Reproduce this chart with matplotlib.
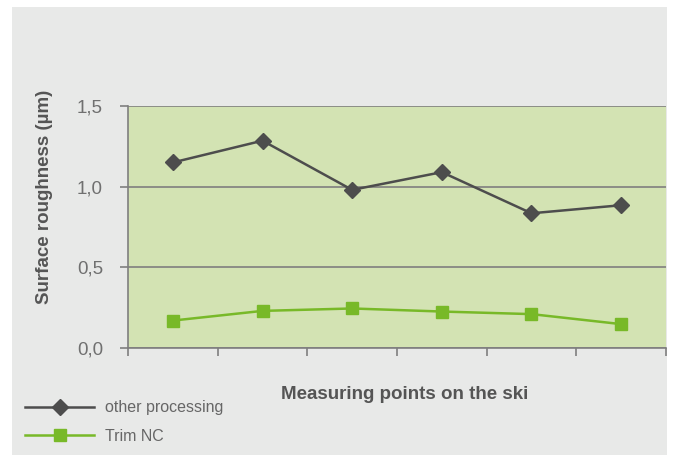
import matplotlib.pyplot as plt
from matplotlib.patches import Rectangle
from matplotlib.ticker import FuncFormatter

plt.rcParams["font.family"] = ["Liberation Sans", "DejaVu Sans"]

# measuring points along the ski (6 positions)
points = [1, 2, 3, 4, 5, 6]
other_processing = [1.15, 1.285, 0.98, 1.09, 0.835, 0.885]
trim_nc = [0.17, 0.23, 0.245, 0.226, 0.21, 0.148]
y_ticks = [0.0, 0.5, 1.0, 1.5]

dark = "#4d4d4d"
green = "#78b928"
text_col = "#555555"
tick_col = "#707070"

fig = plt.figure(figsize=(6.75, 4.55), dpi=100)
fig.patch.set_facecolor("white")
fig.patches.append(Rectangle((12 / 675, 0), (667 - 12) / 675, (455 - 7) / 455,
                             transform=fig.transFigure, facecolor="#e8e9e8",
                             edgecolor="none", zorder=-1))

ax = fig.add_axes([128 / 675, (455 - 348) / 455, (666 - 128) / 675, (348 - 106) / 455])
ax.set_facecolor("#d3e3b3")

l1, = ax.plot(points, other_processing, color=dark, lw=1.8, marker="D", ms=8,
              label="other processing", zorder=3)
l2, = ax.plot(points, trim_nc, color=green, lw=1.8, marker="s", ms=8.5,
              label="Trim NC", zorder=3)

ax.set_xlim(0.5, 6.5)
ax.set_ylim(0, 1.5)
ax.set_yticks(y_ticks)
ax.yaxis.set_major_formatter(FuncFormatter(lambda v, p: f"{v:.1f}".replace(".", ",")))
ax.set_xticks([0.5 + i for i in range(7)])
ax.set_xticklabels([])
ax.grid(axis="y", color="#7f7f7f", lw=1.2)
ax.set_axisbelow(True)

for s in ["top", "right"]:
    ax.spines[s].set_visible(False)
for s in ["left", "bottom"]:
    ax.spines[s].set_color("#7f7f7f")
    ax.spines[s].set_linewidth(1.2)

ax.tick_params(axis="y", length=6, width=1.2, color="#7f7f7f", pad=12,
               labelsize=13.5, labelcolor=tick_col)
ax.tick_params(axis="x", length=6, width=1.2, color="#7f7f7f")

ax.set_ylabel("Surface roughness (µm)", fontsize=13.5, fontweight="bold",
              color=text_col)
ax.yaxis.set_label_coords(-0.139, 0.624)
ax.set_xlabel("Measuring points on the ski", fontsize=13.5, fontweight="bold",
              color=text_col)
ax.xaxis.set_label_coords(0.515, -0.155)

fig.legend(handles=[l1, l2], loc="lower left", bbox_to_anchor=(14 / 675, 0.0),
           frameon=False, handlelength=4.3, handletextpad=0.7, labelspacing=0.85,
           fontsize=11.5, labelcolor="#666666", borderaxespad=0.3)

fig.savefig("out.png", dpi=100)
